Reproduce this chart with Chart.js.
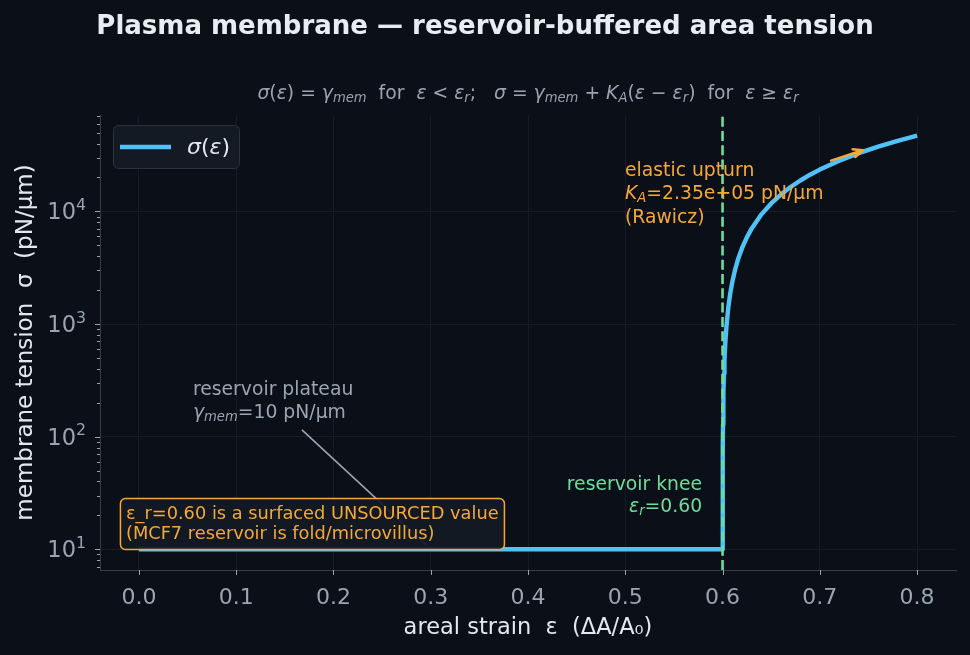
<!DOCTYPE html>
<html><head><meta charset="utf-8">
<script src="https://cdn.jsdelivr.net/npm/chart.js@4.4.1/dist/chart.umd.min.js"></script>
<style>html,body{margin:0;padding:0;background:#0b0f17;}#wrap{width:970px;height:655px;}</style>
</head><body><div id="wrap"><canvas id="c" width="970" height="655"></canvas></div>
<script>
// ---- data ----
const strain = [0, 0.6, 0.6001, 0.6002, 0.6003, 0.6005, 0.6008, 0.601, 0.6015, 0.602, 0.603, 0.604, 0.606, 0.608, 0.61, 0.613, 0.616, 0.62, 0.625, 0.63, 0.64, 0.65, 0.66, 0.67, 0.68, 0.69, 0.7, 0.72, 0.74, 0.76, 0.78, 0.8];
const tension = [10, 10, 33.5, 57, 80.5, 127.5, 198, 245, 362.5, 480, 715, 950, 1420, 1890, 2360, 3065, 3770, 4710, 5885, 7060, 9410, 11760, 14110, 16460, 18810, 21160, 23510, 28210, 32910, 37610, 42310, 47010];
const kneeStrain = [0.6, 0.6];
const kneeTension = [6.55, 71750];
const xTickValues = [0, 0.1, 0.2, 0.3, 0.4, 0.5, 0.6, 0.7, 0.8];
const xTickLabels = ['0.0', '0.1', '0.2', '0.3', '0.4', '0.5', '0.6', '0.7', '0.8'];
const yTickValues = [10, 100, 1000, 10000];
const yTickExponents = ['1', '2', '3', '4'];
const xRange = [-0.04, 0.84];
const yRange = [6.55, 71750];

const BG = '#0b0f17', GRID = '#161c26', SPINE = '#353d4a', TICK = '#9aa4b2';
const BLUE = '#4fc3f7', GREEN = '#6fdc9c', ORANGE = '#f5a83a', GREY = '#9aa4b2', TXT = '#e3e8ef';
const FF = '"DejaVu Sans", sans-serif';

// segs: [text, italic, sub(1)/sup(2)]
function rich(ctx, segs, x, y, size, color, align) {
  const f = s => (s[1] ? 'italic ' : '') + (s[2] ? size * 0.7 : size) + 'px ' + FF;
  let w = 0;
  for (const s of segs) { ctx.font = f(s); w += ctx.measureText(s[0]).width; }
  let cx = align === 'center' ? x - w / 2 : align === 'right' ? x - w : x;
  ctx.fillStyle = color; ctx.textAlign = 'left'; ctx.textBaseline = 'alphabetic';
  const base = y + size * 0.36;
  for (const s of segs) {
    ctx.font = f(s);
    const dy = s[2] === 1 ? size * 0.17 : s[2] === 2 ? -size * 0.42 : 0;
    ctx.fillText(s[0], cx, base + dy);
    cx += ctx.measureText(s[0]).width;
  }
  return w;
}

const deco = {
  id: 'deco',
  beforeDraw(chart) {
    const c = chart.ctx; c.save(); c.fillStyle = BG; c.fillRect(0, 0, chart.width, chart.height); c.restore();
  },
  beforeDatasetsDraw(chart) {
    const c = chart.ctx, xs = chart.scales.x, ys = chart.scales.y;
    const P = (x, y) => [xs.getPixelForValue(x), ys.getPixelForValue(y)];
    c.save();
    const a = P(0.1676, 115), b = P(0.3, 10);
    c.strokeStyle = GREY; c.lineWidth = 1.6;
    c.beginPath(); c.moveTo(a[0], a[1]); c.lineTo(b[0] - 4, b[1] - 4); c.stroke();
    c.restore();
  },
  afterDatasetsDraw(chart) {
    const c = chart.ctx, xs = chart.scales.x, ys = chart.scales.y, ca = chart.chartArea;
    const P = (x, y) => [xs.getPixelForValue(x), ys.getPixelForValue(y)];
    c.save();
    // tick marks
    c.strokeStyle = TICK; c.lineWidth = 1;
    for (const v of xTickValues) { const px = Math.round(xs.getPixelForValue(v)) + 0.5; c.beginPath(); c.moveTo(px, ca.bottom); c.lineTo(px, ca.bottom + 5); c.stroke(); }
    for (const v of yTickValues) { const py = Math.round(ys.getPixelForValue(v)) + 0.5; c.beginPath(); c.moveTo(ca.left, py); c.lineTo(ca.left - 5, py); c.stroke(); }
    for (let d = 1; d < 100000; d *= 10) for (let m = 2; m <= 9; m++) {
      const v = m * d; if (v < yRange[0] || v > yRange[1]) continue;
      const py = Math.round(ys.getPixelForValue(v)) + 0.5; c.beginPath(); c.moveTo(ca.left, py); c.lineTo(ca.left - 3, py); c.stroke();
    }
    // tick labels
    c.fillStyle = TICK; c.font = '22px ' + FF; c.textAlign = 'center'; c.textBaseline = 'middle';
    xTickValues.forEach((v, i) => c.fillText(xTickLabels[i], xs.getPixelForValue(v), 598));
    yTickValues.forEach((v, i) => rich(c, [['10', 0], [yTickExponents[i], 0, 2]], ca.left - 14, ys.getPixelForValue(v), 22.5, TICK, 'right'));
    // title
    c.fillStyle = '#e8edf4'; c.font = 'bold 26px ' + FF; c.textAlign = 'center'; c.textBaseline = 'middle';
    c.fillText('Plasma membrane \u2014 reservoir-buffered area tension', 485, 27);
    // subtitle
    rich(c, [['\u03c3',1],['(',0],['\u03b5',1],[')',0],[' = ',0],['\u03b3',1],['mem',1,1],['  for  ',0],['\u03b5',1],[' < ',0],['\u03b5',1],['r',1,1],[';   ',0],['\u03c3',1],[' = ',0],['\u03b3',1],['mem',1,1],[' + ',0],['K',1],['A',1,1],['(',0],['\u03b5',1],[' \u2212 ',0],['\u03b5',1],['r',1,1],[')',0],['  for  ',0],['\u03b5',1],[' \u2265 ',0],['\u03b5',1],['r',1,1]], 528, 92, 18.8, GREY, 'center');
    // axis titles
    c.fillStyle = TXT; c.font = '22.5px ' + FF; c.textAlign = 'center'; c.textBaseline = 'middle';
    c.fillText('areal strain  \u03b5  (\u0394A/A\u2080)', (ca.left + ca.right) / 2, 628);
    c.save(); c.translate(26, (ca.top + ca.bottom) / 2); c.rotate(-Math.PI / 2);
    c.font = '23px ' + FF;
    c.fillText('membrane tension  \u03c3  (pN/\u03bcm)', 0, 0); c.restore();
    // elastic upturn
    const e0 = P(0.4997, 23550);
    rich(c, [['elastic upturn',0]], e0[0], e0[1], 18.8, ORANGE, 'left');
    rich(c, [['K',1],['A',1,1],['=2.35e+05 pN/\u03bcm',0]], e0[0], e0[1] + 23, 18.8, ORANGE, 'left');
    rich(c, [['(Rawicz)',0]], e0[0], e0[1] + 47, 18.8, ORANGE, 'left');
    // arrow
    const a1 = P(0.7116, 28250), a2 = P(0.744, 34900);
    c.strokeStyle = ORANGE; c.fillStyle = ORANGE; c.lineWidth = 2.5; c.lineCap = 'round'; c.lineJoin = 'round';
    c.beginPath(); c.moveTo(a1[0], a1[1]); c.lineTo(a2[0], a2[1]); c.stroke();
    const ang = Math.atan2(a2[1] - a1[1], a2[0] - a1[0]);
    c.beginPath();
    c.moveTo(a2[0] - 10 * Math.cos(ang - 0.42), a2[1] - 10 * Math.sin(ang - 0.42));
    c.lineTo(a2[0], a2[1]);
    c.lineTo(a2[0] - 10 * Math.cos(ang + 0.42), a2[1] - 10 * Math.sin(ang + 0.42));
    c.stroke();
    // plateau text
    const p0 = P(0.0555, 300);
    rich(c, [['reservoir plateau',0]], p0[0], 388, 18.8, GREY, 'left');
    rich(c, [['\u03b3',1],['mem',1,1],['=10 pN/\u03bcm',0]], p0[0], 411, 18.8, GREY, 'left');
    // knee text
    const k0 = P(0.579, 30);
    rich(c, [['reservoir knee',0]], k0[0], 483, 18.8, GREEN, 'right');
    rich(c, [['\u03b5',1],['r',1,1],['=0.60',0]], k0[0], 505, 18.8, GREEN, 'right');
    // warning box
    const bx = P(-0.0195, 10)[0];
    c.beginPath(); c.roundRect(bx + 0.5, 498.5, 384, 51, 5);
    c.fillStyle = 'rgba(19,26,36,0.93)'; c.fill();
    c.strokeStyle = ORANGE; c.lineWidth = 1.5; c.stroke();
    c.fillStyle = ORANGE; c.font = '17.8px ' + FF; c.textAlign = 'left'; c.textBaseline = 'middle';
    c.fillText('\u03b5_r=0.60 is a surfaced UNSOURCED value', bx + 6, 514);
    c.fillText('(MCF7 reservoir is fold/microvillus)', bx + 6, 534);
    // legend
    c.beginPath(); c.roundRect(113.5, 125.5, 126, 43, 5);
    c.fillStyle = '#131a24'; c.fill(); c.strokeStyle = '#2a3240'; c.lineWidth = 1; c.stroke();
    c.strokeStyle = BLUE; c.lineWidth = 4.4; c.lineCap = 'butt';
    c.beginPath(); c.moveTo(120, 147); c.lineTo(171, 147); c.stroke();
    rich(c, [['\u03c3',1],['(',0],['\u03b5',1],[')',0]], 187, 146, 22, TXT, 'left');
    c.restore();
  }
};

new Chart(document.getElementById('c'), {
  type: 'scatter',
  data: {
    datasets: [
      { label: 'knee', data: kneeStrain.map((x, i) => ({ x, y: kneeTension[i] })), showLine: true, borderColor: GREEN, borderWidth: 2.6, borderDash: [10, 4.3], pointRadius: 0, order: 0 },
      { label: '\u03c3(\u03b5)', data: strain.map((x, i) => ({ x, y: tension[i] })), showLine: true, borderColor: BLUE, borderWidth: 4.4, borderJoinStyle: 'round', pointRadius: 0, tension: 0, order: 1 }
    ]
  },
  options: {
    responsive: false, animation: false, devicePixelRatio: 1,
    layout: { padding: { left: 0, right: 14, top: 115, bottom: 0 } },
    plugins: { legend: { display: false }, title: { display: false }, tooltip: { enabled: false } },
    scales: {
      x: {
        type: 'linear', min: xRange[0], max: xRange[1],
        afterBuildTicks: s => { s.ticks = xTickValues.map(v => ({ value: v })); },
        afterFit: s => { s.height = 85; },
        ticks: { display: false },
        grid: { color: GRID, drawTicks: false },
        border: { color: SPINE, width: 1 }
      },
      y: {
        type: 'logarithmic', min: yRange[0], max: yRange[1],
        afterBuildTicks: s => { s.ticks = yTickValues.map(v => ({ value: v })); },
        afterFit: s => { s.width = 100; },
        ticks: { display: false },
        grid: { color: GRID, drawTicks: false },
        border: { color: SPINE, width: 1 }
      }
    }
  },
  plugins: [deco]
});
</script></body></html>
